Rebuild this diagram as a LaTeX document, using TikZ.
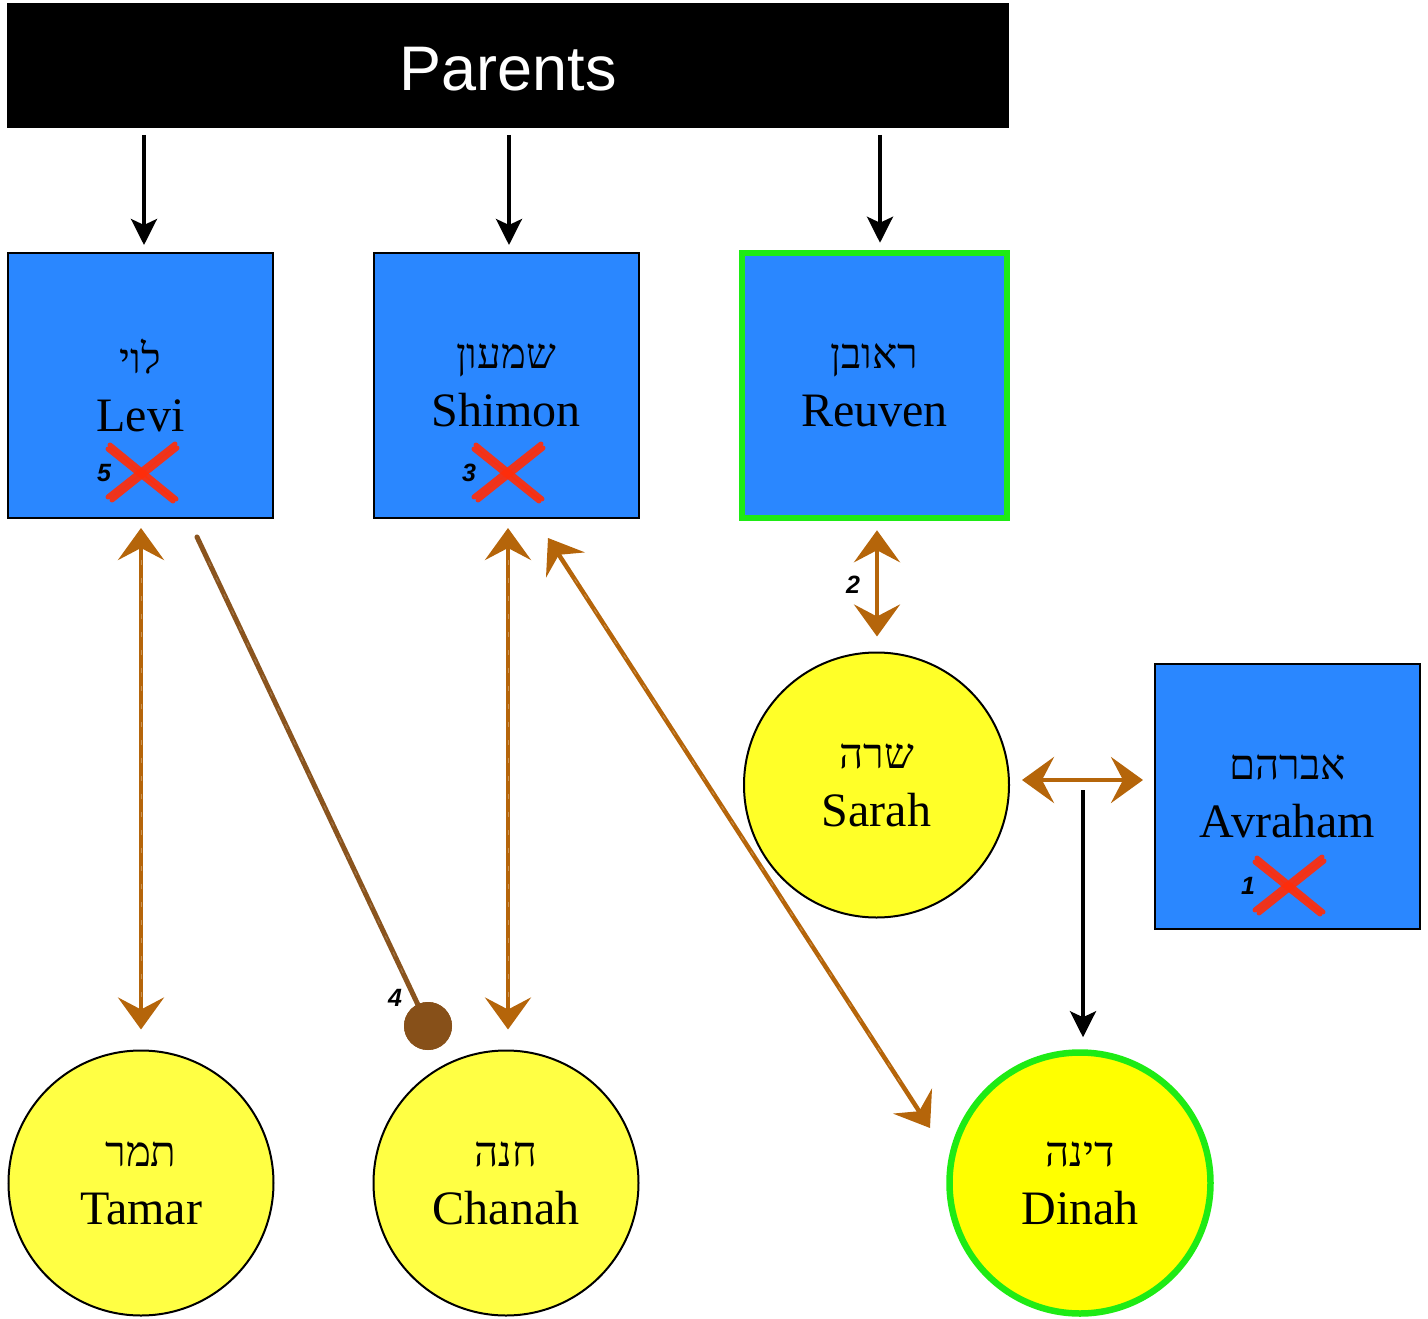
\documentclass[tikz,border=0pt]{standalone}
\usepackage{fontspec}
\setmainfont{Liberation Serif}
\newfontfamily\hebfont[Script=Hebrew]{Liberation Serif}
\newfontfamily\labelsans{Liberation Sans}
\TeXXeTstate=1
\usetikzlibrary{arrows.meta,calc}

\definecolor{boxblue}{RGB}{42,135,255}
\definecolor{paleyellow}{RGB}{255,255,68}
\definecolor{sarahyellow}{RGB}{255,255,40}
\definecolor{pureyellow}{RGB}{255,255,0}
\definecolor{brightgreen}{RGB}{30,235,20}
\definecolor{arrowbrown}{RGB}{181,101,10}
\definecolor{darkbrown}{RGB}{138,84,30}
\definecolor{ballbrown}{RGB}{135,80,25}
\definecolor{xred}{RGB}{255,45,10}

\tikzset{
  x=1pt, y=-1pt,
  namefont/.style={font=\fontsize{48}{58}\selectfont},
  person/.style={namefont, align=center, inner sep=0pt, line width=2pt, draw=black},
  manbox/.style={person, rectangle, fill=boxblue, minimum size=265pt},
  womancircle/.style={person, circle, fill=paleyellow, minimum size=265pt},
  chosen/.style={draw=brightgreen, line width=6.5pt},
  parentsbar/.style={rectangle, fill=black, minimum width=1002pt, minimum height=125pt, inner sep=0pt},
  bartitle/.style={text=white, inner sep=0pt, font=\labelsans\fontsize{63}{63}\selectfont},
  numlabel/.style={font=\labelsans\bfseries\itshape\fontsize{25}{25}\selectfont, inner sep=0pt},
  blackarrow/.style={draw=black, line width=3.5pt, -{Stealth[length=26pt, width=26pt, inset=6pt]}},
  brownarrow/.style={draw=arrowbrown, line width=4.5pt,
    {Stealth[length=32pt, width=46pt, inset=12pt]}-{Stealth[length=32pt, width=46pt, inset=12pt]}},
  grain/.style={draw=white, opacity=0.3, line width=0.7pt, dash pattern=on 5pt off 13pt},
  xstroke/.style={draw=xred, line width=5pt, line cap=round, opacity=0.92},
  redx/.pic={
    \draw[xstroke] (-34,26) -- (33,-27);
    \draw[xstroke] (-30,29) -- (35,-23);
    \draw[xstroke] (-32,-26) -- (34,28);
    \draw[xstroke] (-34,-22) -- (31,30);
  }
}

\newcommand{\heb}[1]{{\hebfont\fontsize{42}{58}\selectfont\beginR #1\endR}}

\begin{document}
\begin{tikzpicture}
\useasboundingbox (0,0) rectangle (1428,1319);

% header
\node[parentsbar] (parents) at (508,65.5) {};
\node[bartitle] (title) at (508,69) {Parents};

% sons and Avraham
\node[manbox] (levi)   at (140.5,385.5) {\heb{לוי}\\Levi};
\node[manbox] (shimon) at (506,385.5)   {\heb{שמעון}\\Shimon};
\node[manbox, chosen] (reuven) at (874.5,385.5) {\heb{ראובן}\\Reuven};
\node[manbox] (avraham) at (1287.5,796.5) {\heb{אברהם}\\Avraham};

% women
\node[womancircle, fill=sarahyellow] (sarah) at (876.5,785) {\heb{שרה}\\Sarah};
\node[womancircle] (tamar)  at (141,1183) {\heb{תמר}\\Tamar};
\node[womancircle] (chanah) at (506,1183) {\heb{חנה}\\Chanah};
\node[womancircle, fill=pureyellow, chosen, minimum size=261pt] (dinah) at (1080,1183) {\heb{דינה}\\Dinah};

% struck-out candidates with their order
\pic at (142,471) {redx};
\pic at (508,471) {redx};
\pic at (1289,884) {redx};
\node[numlabel] (n5) at (104,473) {5};
\node[numlabel] (n3) at (469,473) {3};
\node[numlabel] (n1) at (1248,886) {1};
\node[numlabel] (n2) at (853,585) {2};
\node[numlabel] (n4) at (395,998) {4};

% arrows from the parents
\coordinate (p1) at (144,135);
\coordinate (p2) at (509,135);
\coordinate (p3) at (880,135);
\draw[blackarrow, shorten >=7pt] (p1) -- (p1 |- levi.north);
\draw[blackarrow, shorten >=7pt] (p2) -- (p2 |- shimon.north);
\draw[blackarrow, shorten >=7pt] (p3) -- (p3 |- reuven.north);

% pairings
\coordinate (lt) at (141,0);
\draw[brownarrow, shorten <=9pt, shorten >=20pt] (lt |- levi.south) -- (lt |- tamar.north);
\draw[grain] (141,560) -- (141,1000);

\coordinate (sc) at (508,0);
\draw[brownarrow, shorten <=9pt, shorten >=20pt] (sc |- shimon.south) -- (sc |- chanah.north);
\draw[grain] (508,560) -- (508,1000);

\coordinate (sdtop) at (548,538);
\coordinate (sdbot) at (930,1128);
\draw[brownarrow] (sdtop) -- (sdbot);
\draw[grain] ($(sdtop)!0.07!(sdbot)$) -- ($(sdtop)!0.93!(sdbot)$);

\coordinate (rs) at (877,0);
\draw[brownarrow, shorten <=9pt, shorten >=15pt] (rs |- reuven.south) -- (rs |- sarah.north);

\coordinate (sarahside) at (1022,780);
\coordinate (avrahamside) at (1143,780);
\draw[brownarrow] (sarahside) -- (avrahamside);

% Levi's broken-off line
\node[circle, fill=ballbrown, minimum size=48pt, inner sep=0pt] (ball) at (428,1026) {};
\coordinate (levitail) at (197,537);
\draw[draw=darkbrown, line width=5pt, line cap=round, shorten >=22pt] (levitail) -- (ball.center);
\draw[grain, opacity=0.25] ($(levitail)!0.05!(ball.center)$) -- ($(levitail)!0.9!(ball.center)$);
\node[circle, fill=ballbrown, minimum size=48pt, inner sep=0pt] at (ball.center) {};

% result
\coordinate (union) at (1083,790);
\draw[blackarrow, shorten >=12pt] (union) -- (union |- dinah.north);
\end{tikzpicture}
\end{document}
